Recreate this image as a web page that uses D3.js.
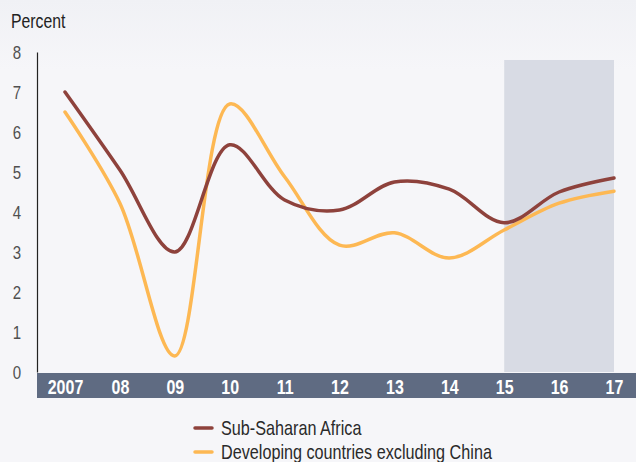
<!DOCTYPE html>
<html><head><meta charset="utf-8">
<script src="https://cdn.jsdelivr.net/npm/d3@7"></script>
<style>
body{margin:0;background:#f5f5f8;}
svg{display:block;}
text{font-family:"Liberation Sans",Arial,sans-serif;}
</style></head>
<body>
<svg id="c" width="636" height="462"></svg>
<script>
const years = ["2007","08","09","10","11","12","13","14","15","16","17"];
const ssa = [7.0, 5.05, 3.0, 5.68, 4.3, 4.05, 4.75, 4.57, 3.73, 4.5, 4.85];
const devExChina = [6.5, 4.22, 0.4, 6.7, 4.88, 3.17, 3.48, 2.85, 3.55, 4.22, 4.52];
const yTicks = [0,1,2,3,4,5,6,7,8];
const seriesNames = ["Sub-Saharan Africa","Developing countries excluding China"];
const colors = ["#8e423c","#fdb853"];
const forecastStart = "15", forecastEnd = "17";

const svg = d3.select("#c");
const defs = svg.append("defs");
const g0 = defs.append("linearGradient").attr("id","bg").attr("x1",0).attr("y1",0).attr("x2",0).attr("y2",1);
g0.append("stop").attr("offset","0").attr("stop-color","#f0f1f5");
g0.append("stop").attr("offset","0.15").attr("stop-color","#f6f6f9");
g0.append("stop").attr("offset","1").attr("stop-color","#f6f6f9");
svg.append("rect").attr("width",636).attr("height",462).attr("fill","url(#bg)");

const x = d3.scalePoint().domain(years).range([65,614]);
const y = d3.scaleLinear().domain([0,8]).range([372,52]);

// forecast shade
svg.append("rect")
  .attr("x", x(forecastStart)).attr("width", x(forecastEnd)-x(forecastStart))
  .attr("y", y(7.8)).attr("height", y(0)-y(7.8))
  .attr("fill","#d8dbe4");

// y axis
const yAxis = d3.axisLeft(y).tickValues(yTicks).tickSize(0).tickPadding(14).tickFormat(d3.format("d"));
const ya = svg.append("g").attr("transform","translate(37,0)").call(yAxis);
ya.select(".domain").attr("stroke","#222").attr("stroke-width",1.2);
ya.selectAll("text").attr("font-size",17.5).attr("fill","#505050").attr("text-anchor","middle")
  .attr("x",-20).attr("dy","0.36em").attr("data-sx",0.86);

svg.append("text").attr("x",11).attr("y",28).attr("font-size",20.5).attr("fill","#222")
  .attr("data-sx",0.77).text("Percent");

// x band
svg.append("rect").attr("x",37).attr("y",373).attr("width",599).attr("height",25).attr("fill","#5f6b82");
const xAxis = d3.axisBottom(x).tickSize(0).tickPadding(0);
const xa = svg.append("g").attr("transform","translate(0,373)").call(xAxis);
xa.select(".domain").remove();
xa.selectAll("text").attr("font-size",19.5).attr("font-weight","bold").attr("fill","#fff")
  .attr("dy",0).attr("y",21).attr("data-sx",0.82);

// lines
const line = d3.line().x((d,i)=>x(years[i])).y(d=>y(d)).curve(d3.curveCatmullRom.alpha(0.5));
[devExChina, ssa].forEach((s,k)=>{
  const ci = k===0 ? 1 : 0;
  svg.append("path").attr("d",line(s)).attr("fill","none").attr("stroke",colors[ci])
    .attr("stroke-width",3.5).attr("stroke-linecap","round");
});

// legend
seriesNames.forEach((n,i)=>{
  const ly = 428 + i*24;
  svg.append("line").attr("x1",195).attr("x2",212).attr("y1",ly).attr("y2",ly)
    .attr("stroke",colors[i]).attr("stroke-width",3.5).attr("stroke-linecap","round");
  svg.append("text").attr("x",221).attr("y",ly+7).attr("font-size",20.5).attr("fill","#2a2a2a")
    .attr("data-sx",0.79).text(n);
});

// condense text horizontally (reference uses a condensed face)
svg.selectAll("text").each(function(){
  const s = +(this.getAttribute("data-sx") || 1);
  const ax = +(this.getAttribute("x") || 0);
  d3.select(this).attr("transform", `translate(${ax},0) scale(${s},1) translate(${-ax},0)`);
});
</script>
</body></html>
